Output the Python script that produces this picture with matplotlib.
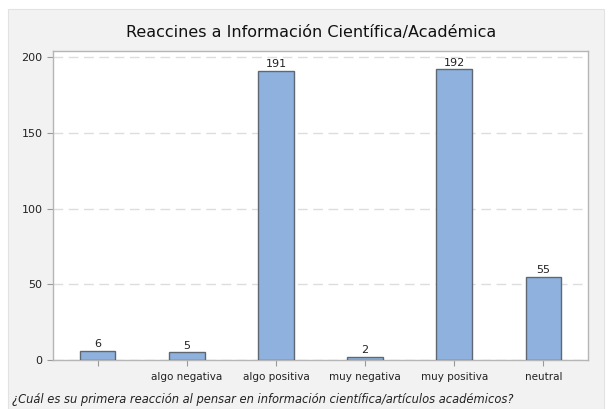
import numpy as np
import matplotlib.pyplot as plt
from matplotlib.patches import Rectangle

# data
categories = ['', 'algo negativa', 'algo positiva', 'muy negativa', 'muy positiva', 'neutral']
counts = [6, 5, 191, 2, 192, 55]
yticks = [0, 50, 100, 150, 200]

W, H = 608, 409
fig = plt.figure(figsize=(W / 100, H / 100), dpi=100)
fig.patch.set_facecolor('white')

# light grey panel behind the chart
fig.patches.append(Rectangle((8 / W, 0), (604 - 8) / W, 1 - 9 / H,
                             transform=fig.transFigure, facecolor='#f2f2f2',
                             edgecolor='#e2e2e2', linewidth=0.8, zorder=-1))

ax = fig.add_axes([53 / W, 1 - 360 / H, (588 - 53) / W, (360 - 51) / H])
ax.set_facecolor('white')

x = np.arange(len(categories))
bars = ax.bar(x, counts, width=0.4, color='#8eb2dd', edgecolor='#5f6872',
              linewidth=1.0, zorder=3)
for xi, c in zip(x, counts):
    ax.text(xi, c + 1, str(c), ha='center', va='bottom', fontsize=8, color='#222222')

ax.set_xlim(-0.5, len(categories) - 0.5)
ax.set_ylim(0, 204)
ax.set_yticks(yticks)
ax.set_xticks(x)
ax.set_xticklabels(categories, fontsize=7.5, color='#222222')
ax.tick_params(axis='y', labelsize=8, colors='#999999', labelcolor='#222222', length=4)
ax.tick_params(axis='x', colors='#999999', labelcolor='#222222', length=4, pad=5)
ax.yaxis.grid(True, linestyle=(0, (7, 4)), color='#dddddd', linewidth=1.0, zorder=0)
for s in ax.spines.values():
    s.set_color('#b5b5b5')
    s.set_linewidth(1.0)

fig.text(0.5 + 7 / W, 1 - 33 / H, 'Reaccines a Información Científica/Académica',
         ha='center', va='center', fontsize=11.5, color='#111111')
fig.text(12 / W, 1 - 400 / H,
         '¿Cuál es su primera reacción al pensar en información científica/artículos académicos?',
         ha='left', va='center', fontsize=8.3, style='italic', color='#222222')

fig.savefig('out.png', dpi=100)
